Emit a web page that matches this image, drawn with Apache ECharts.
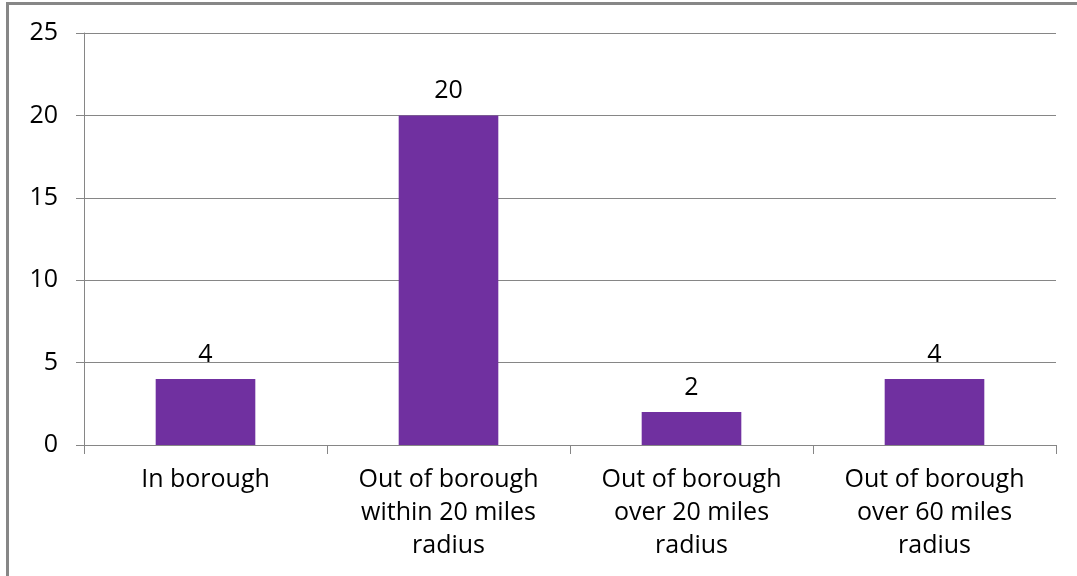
<!DOCTYPE html>
<html>
<head>
<meta charset="utf-8">
<script src="https://cdn.jsdelivr.net/npm/echarts@6/dist/echarts.min.js"></script>
<style>
	html, body { margin: 0; padding: 0; background: #fff; }
	#wrap { position: relative; width: 1077px; height: 576px; overflow: hidden; }
	#chart { position: absolute; left: 0; top: 0; width: 1077px; height: 576px; }
	#frame {
		position: absolute; left: 6px; top: 2px; width: 1100px; height: 600px;
		border-left: 3px solid #878787; border-top: 3px solid #878787;
		pointer-events: none;
	}
</style>
</head>
<body>
<div id="wrap">
	<div id="chart"></div>
	<div id="frame"></div>
</div>
<script>
// categories as they are wrapped under the axis
const categories = [
	'In borough',
	'Out of borough\nwithin 20 miles\nradius',
	'Out of borough\nover 20 miles\nradius',
	'Out of borough\nover 60 miles\nradius'
];
const counts = [4, 20, 2, 4];
const yTicks = [0, 5, 10, 15, 20, 25];

const font = '"Open Sans", "DejaVu Sans", sans-serif';

let myChart = echarts.init(document.getElementById('chart'));
myChart.setOption({
	animation: false,
	grid: {
		left: 84,
		right: 21,
		top: 33,
		bottom: 131,
		containLabel: false
	},
	xAxis: {
		type: 'category',
		data: categories,
		axisLine: { lineStyle: { color: '#868686', width: 1 } },
		axisTick: { show: true, length: 9, alignWithLabel: false, lineStyle: { color: '#868686' } },
		axisLabel: {
			interval: 0,
			margin: 18,
			color: '#000',
			fontFamily: font,
			fontSize: 25,
			lineHeight: 33
		}
	},
	yAxis: {
		type: 'value',
		min: yTicks[0],
		max: yTicks[yTicks.length - 1],
		interval: 5,
		axisLine: { show: true, lineStyle: { color: '#868686', width: 1 } },
		axisTick: { show: true, length: 8, lineStyle: { color: '#868686' } },
		axisLabel: {
			margin: 26,
			color: '#000',
			fontFamily: font,
			fontSize: 25
		},
		splitLine: { lineStyle: { color: '#868686', width: 1 } }
	},
	series: [
		{
			name: 'Count',
			type: 'bar',
			data: counts,
			barWidth: '41%',
			itemStyle: { color: '#7030A0' },
			label: {
				show: true,
				position: 'top',
				distance: 12,
				color: '#000',
				fontFamily: font,
				fontSize: 25
			}
		}
	]
});
</script>
</body>
</html>
